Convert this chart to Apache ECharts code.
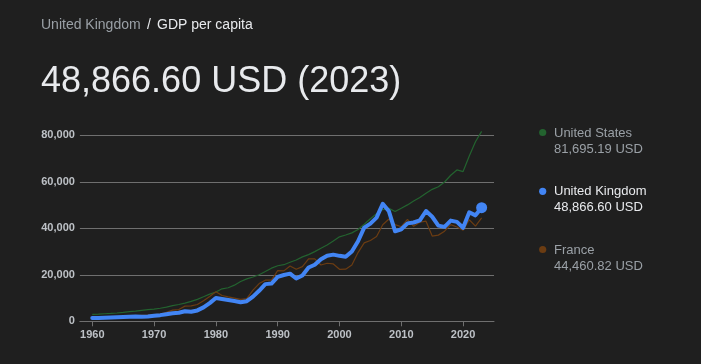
<!DOCTYPE html>
<html>
<head>
<meta charset="utf-8">
<script src="https://cdn.jsdelivr.net/npm/echarts@6/dist/echarts.min.js"></script>
<style>
html,body{margin:0;padding:0;background:#1f1f1f;}
#chart{width:701px;height:364px;}
</style>
</head>
<body>
<div id="chart"></div>
<script>
const years = [1960,1961,1962,1963,1964,1965,1966,1967,1968,1969,
  1970,1971,1972,1973,1974,1975,1976,1977,1978,1979,
  1980,1981,1982,1983,1984,1985,1986,1987,1988,1989,
  1990,1991,1992,1993,1994,1995,1996,1997,1998,1999,
  2000,2001,2002,2003,2004,2005,2006,2007,2008,2009,
  2010,2011,2012,2013,2014,2015,2016,2017,2018,2019,
  2020,2021,2022,2023];

const unitedStates = [3007,3067,3244,3375,3574,3828,4146,4336,4696,5032,
  5234,5609,6095,6726,7226,7801,8592,9453,10565,11674,
  12575,13976,14434,15544,17121,18237,19071,20039,21417,22857,
  23889,24342,25419,26387,27695,28691,29968,31459,32854,34515,
  36330,37134,38023,39497,41725,44123,46302,48050,48570,47195,
  48651,50066,51784,53291,55124,56763,57867,59915,62805,65095,
  64403,71056,77247,81695.19];

const unitedKingdom = [1398,1472,1525,1613,1748,1874,1987,2058,1952,2101,
  2348,2649,3030,3426,3666,4300,4139,4681,5977,7805,
  10032,9599,9146,8692,8179,8652,10611,13119,15987,16240,
  19095,19900,20487,18389,19710,23123,24334,26734,28214,28669,
  28150,27744,30057,34419,40290,42030,44599,50566,47287,38713,
  39599,42110,42497,43426,47440,44964,41146,40622,43306,42747,
  40217,46870,45564,48866.60];

const france = [1334,1428,1578,1748,1917,2058,2213,2364,2549,2675,
  2858,3134,3817,4811,5063,6526,6642,7226,8854,10700,
  12713,11105,10496,9972,9432,9785,13388,16236,17682,17697,
  21794,21675,23815,22361,23496,26890,26872,24228,24974,24673,
  22364,22434,24177,29568,33741,34760,36470,41508,44000,41575,
  40676,43846,40875,42603,43069,36653,37063,38781,41557,40579,
  39170,43671,40964,44460.82];

const yTicks = [0,20000,40000,60000,80000];
const seriesNames = ['United States','United Kingdom','France'];
const titleCountry = 'United Kingdom';
const titleIndicator = 'GDP per capita';

// axis categories padded by two years on each side (axis range)
const categories = ['1958','1959'].concat(years.map(String), ['2024','2025']);
const pairs = arr => years.map((y,i)=>[String(y), arr[i]]);
const fmt = v => v.toLocaleString('en-US',{minimumFractionDigits:2,maximumFractionDigits:2});
const lastIdx = years.length-1;

const colUS = '#23632f', colUK = '#4285f4', colFR = '#6b3c12';
const grey = '#9aa0a6', white = '#e8eaed';

const chart = echarts.init(document.getElementById('chart'), null, {renderer:'canvas'});
const legendItems = [
  {name: seriesNames[0], val: unitedStates[lastIdx], color: colUS, text: grey, y: 132.5},
  {name: seriesNames[1], val: unitedKingdom[lastIdx], color: colUK, text: white, y: 191.3},
  {name: seriesNames[2], val: france[lastIdx], color: colFR, text: grey, y: 249.5}
];
const graphics = [
  {type:'text', left:41, top:18, style:{text:titleCountry, fill:grey, font:'14px Arial'}},
  {type:'text', left:147, top:18, style:{text:'/', fill:white, font:'14px Arial'}},
  {type:'text', left:157, top:18, style:{text:titleIndicator, fill:white, font:'14px Arial'}},
  {type:'text', left:41, top:64, style:{text: fmt(unitedKingdom[lastIdx]) + ' USD (' + years[lastIdx] + ')', fill:white, font:'36px Arial'}}
];
legendItems.forEach(it=>{
  graphics.push({type:'circle', shape:{cx:542.7, cy:it.y, r:3.6}, style:{fill:it.color}});
  graphics.push({type:'text', x:554, y:it.y+0.5, style:{text:it.name, fill:it.text, font:'13px Arial', verticalAlign:'middle'}});
  graphics.push({type:'text', x:554, y:it.y+16.5, style:{text:fmt(it.val)+' USD', fill:it.text, font:'13px Arial', verticalAlign:'middle'}});
});

chart.setOption({
  backgroundColor:'#1f1f1f',
  animation:false,
  grid:{left:79.9, top:135.3, width:414.1, height:186, containLabel:false},
  xAxis:{
    type:'category', data:categories, boundaryGap:false,
    axisLine:{show:true, lineStyle:{color:'#6f6f6f', width:1}},
    axisTick:{show:true, length:5, lineStyle:{color:'#6f6f6f'}, interval:(i,v)=>Number(v)%10===0},
    axisLabel:{color:'#bdc1c6', fontSize:11, fontWeight:'bold', fontFamily:'Arial', margin:8, interval:(i,v)=>Number(v)%10===0},
    splitLine:{show:false}
  },
  yAxis:{
    type:'value', min:yTicks[0], max:yTicks[yTicks.length-1], interval:yTicks[1]-yTicks[0],
    axisLine:{show:false}, axisTick:{show:false},
    axisLabel:{color:'#bdc1c6', fontSize:11, fontWeight:'bold', fontFamily:'Arial', margin:5},
    splitLine:{lineStyle:{color:'#6f6f6f', width:1}}
  },
  graphic: graphics,
  series:[
    {name:seriesNames[0], type:'line', data:pairs(unitedStates), showSymbol:false, clip:false,
      lineStyle:{color:colUS, width:1.2}, itemStyle:{color:colUS}, z:2},
    {name:seriesNames[2], type:'line', data:pairs(france), showSymbol:false, clip:false,
      lineStyle:{color:colFR, width:1.2}, itemStyle:{color:colFR}, z:2},
    {name:seriesNames[1], type:'line', data:pairs(unitedKingdom), showSymbol:false, clip:false,
      lineStyle:{color:colUK, width:4, join:'round', cap:'round'}, itemStyle:{color:colUK}, z:4},
    {name:seriesNames[1]+' last', type:'scatter', data:[[String(years[lastIdx]), unitedKingdom[lastIdx]]],
      symbol:'circle', symbolSize:11, itemStyle:{color:colUK, opacity:1}, z:5}
  ]
});
</script>
</body>
</html>
